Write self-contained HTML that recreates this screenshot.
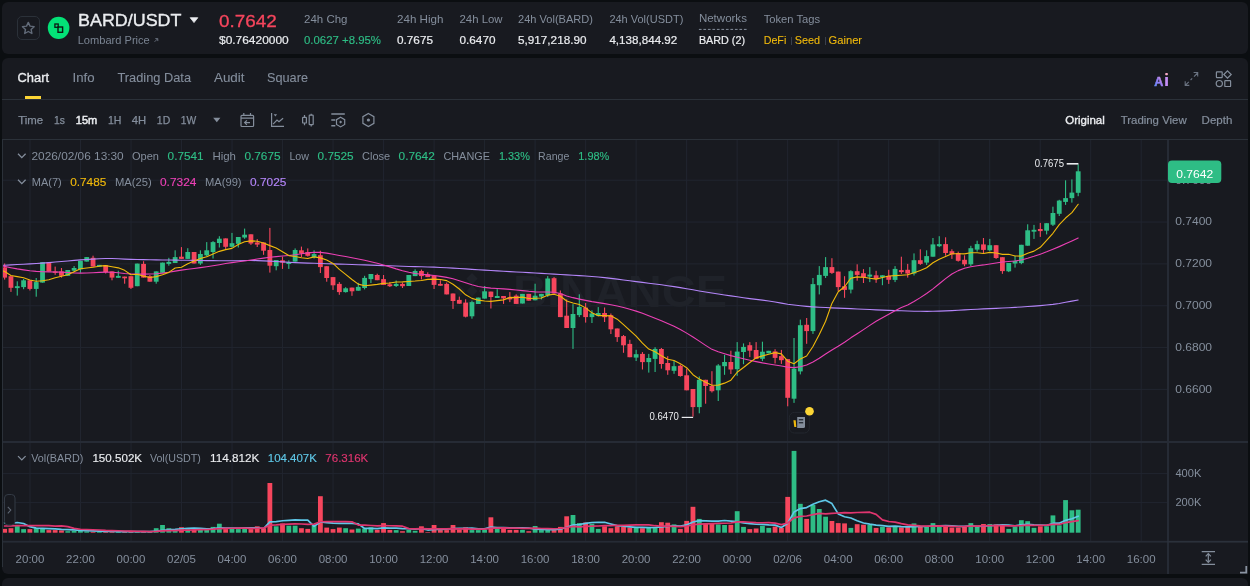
<!DOCTYPE html>
<html><head><meta charset="utf-8">
<style>
*{margin:0;padding:0;box-sizing:border-box}
html,body{width:1250px;height:586px;overflow:hidden;background:#0b0e11;font-family:"Liberation Sans",sans-serif;color:#eaecef}
.abs{position:absolute;white-space:nowrap}
#hdr{position:absolute;left:2px;top:2px;width:1246px;height:52px;background:#181a20;border-radius:6px}
#main{position:absolute;left:2px;top:58px;width:1246px;height:516px;background:#181a20;border-radius:6px 6px 0 6px}
#bot{position:absolute;left:2px;top:578px;width:1246px;height:20px;background:#181a20;border-radius:6px}
.g{color:#848e9c}
.w{color:#eaecef;-webkit-text-stroke:0.2px #eaecef}
.t12{font-size:12px;line-height:14px}
.t11{font-size:11px;line-height:13px}
svg text{font-family:"Liberation Sans",sans-serif}
#root{position:absolute;left:0;top:0;width:1250px;height:586px;overflow:hidden;will-change:transform;background:#0b0e11}
</style></head><body><div id="root">
<div id="hdr"></div>
<div id="main"></div>
<div id="bot"></div>

<!-- header -->
<div class="abs" style="left:17px;top:16px;width:23px;height:24px;border:1px solid #2b3139;border-radius:5px"></div>
<svg class="abs" style="left:0;top:0" width="80" height="50" viewBox="0 0 80 50"><path d="M28.3 22.4l1.75 3.75 4.1.5-3.05 2.8.8 4.05-3.6-2-3.6 2 .8-4.05-3.05-2.8 4.1-.5z" fill="none" stroke="#626b79" stroke-width="1.4" stroke-linejoin="round"/>
<ellipse cx="58.6" cy="27.8" rx="10.8" ry="11.1" fill="#03e277"/>
<rect x="54.9" y="24" width="3.3" height="3.3" fill="none" stroke="#0b1a12" stroke-width="1.3"/>
<rect x="58" y="27" width="4.6" height="5.3" fill="none" stroke="#0b1a12" stroke-width="1.4"/></svg>
<svg class="abs" style="left:189px;top:17px" width="10" height="7" viewBox="0 0 10 7"><path d="M1.2 0.7h7.6L5 5.6z" fill="#eaecef" stroke="#eaecef" stroke-width="0.8" stroke-linejoin="round"/></svg>
<svg class="abs" style="left:154px;top:37.8px" width="5" height="5" viewBox="0 0 5 5"><path d="M0.6 3.8L3.5 0.9M1.3 0.6H3.8V3.1" fill="none" stroke="#7a8492" stroke-width="0.8"/></svg>

<div class="abs" style="left:791px;top:37px;width:1px;height:8px;background:#3a404b"></div>
<div class="abs" style="left:825px;top:37px;width:1px;height:8px;background:#3a404b"></div>

<!-- tabs -->
<div class="abs" style="left:25px;top:96px;width:16px;height:3px;background:#fcd535"></div>
<div class="abs" style="left:2px;top:99px;width:1246px;height:1px;background:#2b3139"></div>

<!-- toolbar -->
<div class="abs" style="left:2px;top:139px;width:1246px;height:1px;background:#2b3139"></div>

<svg id="chart" class="abs" style="left:0;top:0" width="1250" height="586" viewBox="0 0 1250 586">
<line x1="30" y1="140" x2="30" y2="541.7" stroke="#21252f" stroke-width="1"/><line x1="80.51" y1="140" x2="80.51" y2="541.7" stroke="#21252f" stroke-width="1"/><line x1="131.02" y1="140" x2="131.02" y2="541.7" stroke="#21252f" stroke-width="1"/><line x1="181.53" y1="140" x2="181.53" y2="541.7" stroke="#21252f" stroke-width="1"/><line x1="232.04" y1="140" x2="232.04" y2="541.7" stroke="#21252f" stroke-width="1"/><line x1="282.55" y1="140" x2="282.55" y2="541.7" stroke="#21252f" stroke-width="1"/><line x1="333.06" y1="140" x2="333.06" y2="541.7" stroke="#21252f" stroke-width="1"/><line x1="383.57" y1="140" x2="383.57" y2="541.7" stroke="#21252f" stroke-width="1"/><line x1="434.08" y1="140" x2="434.08" y2="541.7" stroke="#21252f" stroke-width="1"/><line x1="484.59" y1="140" x2="484.59" y2="541.7" stroke="#21252f" stroke-width="1"/><line x1="535.1" y1="140" x2="535.1" y2="541.7" stroke="#21252f" stroke-width="1"/><line x1="585.61" y1="140" x2="585.61" y2="541.7" stroke="#21252f" stroke-width="1"/><line x1="636.12" y1="140" x2="636.12" y2="541.7" stroke="#21252f" stroke-width="1"/><line x1="686.63" y1="140" x2="686.63" y2="541.7" stroke="#21252f" stroke-width="1"/><line x1="737.14" y1="140" x2="737.14" y2="541.7" stroke="#21252f" stroke-width="1"/><line x1="787.65" y1="140" x2="787.65" y2="541.7" stroke="#21252f" stroke-width="1"/><line x1="838.16" y1="140" x2="838.16" y2="541.7" stroke="#21252f" stroke-width="1"/><line x1="888.67" y1="140" x2="888.67" y2="541.7" stroke="#21252f" stroke-width="1"/><line x1="939.18" y1="140" x2="939.18" y2="541.7" stroke="#21252f" stroke-width="1"/><line x1="989.69" y1="140" x2="989.69" y2="541.7" stroke="#21252f" stroke-width="1"/><line x1="1040.2" y1="140" x2="1040.2" y2="541.7" stroke="#21252f" stroke-width="1"/><line x1="1090.71" y1="140" x2="1090.71" y2="541.7" stroke="#21252f" stroke-width="1"/><line x1="1141.22" y1="140" x2="1141.22" y2="541.7" stroke="#21252f" stroke-width="1"/><line x1="3" y1="180.2" x2="1167.5" y2="180.2" stroke="#21252f" stroke-width="1"/><line x1="3" y1="222.04" x2="1167.5" y2="222.04" stroke="#21252f" stroke-width="1"/><line x1="3" y1="263.88" x2="1167.5" y2="263.88" stroke="#21252f" stroke-width="1"/><line x1="3" y1="305.72" x2="1167.5" y2="305.72" stroke="#21252f" stroke-width="1"/><line x1="3" y1="347.56" x2="1167.5" y2="347.56" stroke="#21252f" stroke-width="1"/><line x1="3" y1="389.4" x2="1167.5" y2="389.4" stroke="#21252f" stroke-width="1"/><line x1="3" y1="473.6" x2="1167.5" y2="473.6" stroke="#21252f" stroke-width="1"/><line x1="3" y1="502.6" x2="1167.5" y2="502.6" stroke="#21252f" stroke-width="1"/><!-- watermark -->
<g fill="#1f2229">
<text x="513" y="306.6" font-size="45" font-weight="bold" textLength="214" lengthAdjust="spacingAndGlyphs">BINANCE</text>
<g transform="translate(472,291)"><path d="M0 -19l6 6-6 6-6-6zM-13 -6l6 6-6 6-6-6zM13 -6l6 6-6 6-6-6zM0 -6l6 6-6 6-6-6zM0 7l6 6-6 6-6-6z" transform="scale(0.95)"/></g>
</g>
<rect x="4.09" y="263.5" width="1.1" height="16.1" fill="#f6465d"/><rect x="2.24" y="267.4" width="4.8" height="10.2" fill="#f6465d"/><rect x="10.4" y="276.2" width="1.1" height="15.7" fill="#f6465d"/><rect x="8.55" y="276.2" width="4.8" height="11.6" fill="#f6465d"/><rect x="16.72" y="281.3" width="1.1" height="14.3" fill="#2ebd85"/><rect x="14.87" y="286.2" width="4.8" height="1.9" fill="#2ebd85"/><rect x="23.04" y="279" width="1.1" height="10.2" fill="#2ebd85"/><rect x="21.19" y="280.3" width="4.8" height="6.8" fill="#2ebd85"/><rect x="29.35" y="280.3" width="1.1" height="10.2" fill="#f6465d"/><rect x="27.5" y="280.3" width="4.8" height="8.6" fill="#f6465d"/><rect x="35.67" y="278" width="1.1" height="18.7" fill="#2ebd85"/><rect x="33.82" y="282.1" width="4.8" height="6.8" fill="#2ebd85"/><rect x="41.98" y="262.1" width="1.1" height="20.5" fill="#2ebd85"/><rect x="40.13" y="262.1" width="4.8" height="20.5" fill="#2ebd85"/><rect x="48.3" y="262.1" width="1.1" height="9.3" fill="#f6465d"/><rect x="46.45" y="262.1" width="4.8" height="9.3" fill="#f6465d"/><rect x="54.61" y="266.6" width="1.1" height="8.2" fill="#f6465d"/><rect x="52.76" y="271.4" width="4.8" height="1.4" fill="#f6465d"/><rect x="60.93" y="268" width="1.1" height="9.6" fill="#f6465d"/><rect x="59.08" y="271.4" width="4.8" height="4.4" fill="#f6465d"/><rect x="67.24" y="270" width="1.1" height="5.8" fill="#2ebd85"/><rect x="65.39" y="270" width="4.8" height="5.8" fill="#2ebd85"/><rect x="73.56" y="266" width="1.1" height="5.4" fill="#2ebd85"/><rect x="71.7" y="268" width="4.8" height="2.7" fill="#2ebd85"/><rect x="79.87" y="260.8" width="1.1" height="12" fill="#2ebd85"/><rect x="78.02" y="260.8" width="4.8" height="8.6" fill="#2ebd85"/><rect x="86.19" y="257.1" width="1.1" height="4.5" fill="#2ebd85"/><rect x="84.33" y="257.1" width="4.8" height="4.5" fill="#2ebd85"/><rect x="92.5" y="255.7" width="1.1" height="10.9" fill="#f6465d"/><rect x="90.65" y="257.8" width="4.8" height="8.8" fill="#f6465d"/><rect x="98.82" y="264.9" width="1.1" height="1.7" fill="#2ebd85"/><rect x="96.97" y="264.9" width="4.8" height="1.7" fill="#2ebd85"/><rect x="105.13" y="265.3" width="1.1" height="8.2" fill="#f6465d"/><rect x="103.28" y="265.3" width="4.8" height="6.8" fill="#f6465d"/><rect x="111.45" y="271.4" width="1.1" height="8.9" fill="#f6465d"/><rect x="109.59" y="271.4" width="4.8" height="6.2" fill="#f6465d"/><rect x="117.76" y="270.7" width="1.1" height="7.1" fill="#2ebd85"/><rect x="115.91" y="275.9" width="4.8" height="1.9" fill="#2ebd85"/><rect x="124.08" y="276.6" width="1.1" height="7.1" fill="#f6465d"/><rect x="122.23" y="276.6" width="4.8" height="1.7" fill="#f6465d"/><rect x="130.39" y="276.2" width="1.1" height="12.8" fill="#f6465d"/><rect x="128.54" y="276.2" width="4.8" height="11.6" fill="#f6465d"/><rect x="136.7" y="263.6" width="1.1" height="22.6" fill="#2ebd85"/><rect x="134.85" y="263.6" width="4.8" height="22.6" fill="#2ebd85"/><rect x="143.02" y="261.2" width="1.1" height="16.4" fill="#f6465d"/><rect x="141.17" y="263.9" width="4.8" height="13.7" fill="#f6465d"/><rect x="149.33" y="275" width="1.1" height="6.7" fill="#f6465d"/><rect x="147.48" y="276.2" width="4.8" height="5.5" fill="#f6465d"/><rect x="155.65" y="271.4" width="1.1" height="12.3" fill="#2ebd85"/><rect x="153.8" y="271.4" width="4.8" height="10.3" fill="#2ebd85"/><rect x="161.96" y="262.6" width="1.1" height="10.2" fill="#2ebd85"/><rect x="160.11" y="262.6" width="4.8" height="10.2" fill="#2ebd85"/><rect x="168.28" y="257.8" width="1.1" height="7.9" fill="#2ebd85"/><rect x="166.43" y="261.9" width="4.8" height="2" fill="#2ebd85"/><rect x="174.59" y="250.3" width="1.1" height="12.7" fill="#2ebd85"/><rect x="172.75" y="257.1" width="4.8" height="5.9" fill="#2ebd85"/><rect x="180.91" y="247.1" width="1.1" height="11.8" fill="#f6465d"/><rect x="179.06" y="256.7" width="4.8" height="2.2" fill="#f6465d"/><rect x="187.22" y="248.2" width="1.1" height="10.7" fill="#2ebd85"/><rect x="185.38" y="252" width="4.8" height="6.9" fill="#2ebd85"/><rect x="193.54" y="252" width="1.1" height="11.5" fill="#f6465d"/><rect x="191.69" y="252" width="4.8" height="11.5" fill="#f6465d"/><rect x="199.85" y="250.3" width="1.1" height="14.6" fill="#2ebd85"/><rect x="198" y="254" width="4.8" height="9.5" fill="#2ebd85"/><rect x="206.17" y="242.1" width="1.1" height="14.3" fill="#2ebd85"/><rect x="204.32" y="250.3" width="4.8" height="5" fill="#2ebd85"/><rect x="212.48" y="241.1" width="1.1" height="17.4" fill="#2ebd85"/><rect x="210.63" y="242.1" width="4.8" height="9.9" fill="#2ebd85"/><rect x="218.8" y="236.2" width="1.1" height="11.3" fill="#2ebd85"/><rect x="216.95" y="238.7" width="4.8" height="4.3" fill="#2ebd85"/><rect x="225.11" y="238.4" width="1.1" height="10.5" fill="#f6465d"/><rect x="223.26" y="238.4" width="4.8" height="8.4" fill="#f6465d"/><rect x="231.43" y="232.9" width="1.1" height="14.6" fill="#2ebd85"/><rect x="229.58" y="243.2" width="4.8" height="3.6" fill="#2ebd85"/><rect x="237.74" y="237" width="1.1" height="10.5" fill="#2ebd85"/><rect x="235.89" y="237" width="4.8" height="6.8" fill="#2ebd85"/><rect x="244.06" y="228.6" width="1.1" height="10.2" fill="#2ebd85"/><rect x="242.21" y="234.7" width="4.8" height="2.8" fill="#2ebd85"/><rect x="250.38" y="234.3" width="1.1" height="10.6" fill="#f6465d"/><rect x="248.53" y="234.3" width="4.8" height="9.2" fill="#f6465d"/><rect x="256.69" y="239.1" width="1.1" height="7.9" fill="#f6465d"/><rect x="254.84" y="242.5" width="4.8" height="2.1" fill="#f6465d"/><rect x="263" y="242.5" width="1.1" height="12.3" fill="#f6465d"/><rect x="261.16" y="242.5" width="4.8" height="8.2" fill="#f6465d"/><rect x="269.32" y="227.9" width="1.1" height="44.7" fill="#f6465d"/><rect x="267.47" y="250" width="4.8" height="15.7" fill="#f6465d"/><rect x="275.63" y="260" width="1.1" height="10.3" fill="#2ebd85"/><rect x="273.79" y="260" width="4.8" height="6.2" fill="#2ebd85"/><rect x="281.95" y="256.6" width="1.1" height="12.3" fill="#f6465d"/><rect x="280.1" y="260.3" width="4.8" height="2.3" fill="#f6465d"/><rect x="288.26" y="260.3" width="1.1" height="8.6" fill="#2ebd85"/><rect x="286.42" y="262" width="4.8" height="2" fill="#2ebd85"/><rect x="294.58" y="248.4" width="1.1" height="13.2" fill="#2ebd85"/><rect x="292.73" y="250" width="4.8" height="11.6" fill="#2ebd85"/><rect x="300.89" y="246.6" width="1.1" height="10.5" fill="#f6465d"/><rect x="299.05" y="250.3" width="4.8" height="3.2" fill="#f6465d"/><rect x="307.21" y="248.4" width="1.1" height="8.2" fill="#f6465d"/><rect x="305.36" y="252.1" width="4.8" height="3.7" fill="#f6465d"/><rect x="313.52" y="250.3" width="1.1" height="8.2" fill="#2ebd85"/><rect x="311.68" y="254.1" width="4.8" height="3" fill="#2ebd85"/><rect x="319.84" y="250.7" width="1.1" height="22.3" fill="#f6465d"/><rect x="317.99" y="255.2" width="4.8" height="11.9" fill="#f6465d"/><rect x="326.15" y="266.2" width="1.1" height="15.5" fill="#f6465d"/><rect x="324.31" y="266.2" width="4.8" height="11.8" fill="#f6465d"/><rect x="332.47" y="277.1" width="1.1" height="12.8" fill="#f6465d"/><rect x="330.62" y="277.1" width="4.8" height="8.2" fill="#f6465d"/><rect x="338.78" y="282.1" width="1.1" height="12.7" fill="#f6465d"/><rect x="336.94" y="283.9" width="4.8" height="8.2" fill="#f6465d"/><rect x="345.1" y="287.2" width="1.1" height="5.4" fill="#2ebd85"/><rect x="343.25" y="288.3" width="4.8" height="3.8" fill="#2ebd85"/><rect x="351.42" y="287.6" width="1.1" height="8.2" fill="#f6465d"/><rect x="349.57" y="287.6" width="4.8" height="3.7" fill="#f6465d"/><rect x="357.73" y="282.8" width="1.1" height="7.9" fill="#2ebd85"/><rect x="355.88" y="286.9" width="4.8" height="3.8" fill="#2ebd85"/><rect x="364.05" y="275.8" width="1.1" height="13.6" fill="#2ebd85"/><rect x="362.2" y="277.9" width="4.8" height="10.1" fill="#2ebd85"/><rect x="370.36" y="274" width="1.1" height="9" fill="#2ebd85"/><rect x="368.51" y="274" width="4.8" height="5.1" fill="#2ebd85"/><rect x="376.68" y="273.7" width="1.1" height="6.5" fill="#f6465d"/><rect x="374.83" y="275" width="4.8" height="5.2" fill="#f6465d"/><rect x="382.99" y="275" width="1.1" height="9.9" fill="#f6465d"/><rect x="381.14" y="279.1" width="4.8" height="5.8" fill="#f6465d"/><rect x="389.31" y="281.9" width="1.1" height="5.1" fill="#f6465d"/><rect x="387.46" y="284.3" width="4.8" height="1.9" fill="#f6465d"/><rect x="395.62" y="280.5" width="1.1" height="6.5" fill="#2ebd85"/><rect x="393.77" y="283.9" width="4.8" height="2.1" fill="#2ebd85"/><rect x="401.94" y="282.5" width="1.1" height="5.5" fill="#f6465d"/><rect x="400.09" y="283.9" width="4.8" height="2.3" fill="#f6465d"/><rect x="408.25" y="275" width="1.1" height="11" fill="#2ebd85"/><rect x="406.4" y="275" width="4.8" height="11" fill="#2ebd85"/><rect x="414.56" y="269.3" width="1.1" height="6.8" fill="#2ebd85"/><rect x="412.72" y="271" width="4.8" height="5.1" fill="#2ebd85"/><rect x="420.88" y="269.6" width="1.1" height="9.8" fill="#f6465d"/><rect x="419.03" y="271" width="4.8" height="5.1" fill="#f6465d"/><rect x="427.19" y="272.3" width="1.1" height="4.8" fill="#f6465d"/><rect x="425.35" y="274.4" width="4.8" height="2.7" fill="#f6465d"/><rect x="433.51" y="275.7" width="1.1" height="13.3" fill="#f6465d"/><rect x="431.66" y="275.7" width="4.8" height="9.2" fill="#f6465d"/><rect x="439.82" y="280.2" width="1.1" height="5.5" fill="#f6465d"/><rect x="437.98" y="283.9" width="4.8" height="1.8" fill="#f6465d"/><rect x="446.14" y="282.5" width="1.1" height="11.9" fill="#f6465d"/><rect x="444.29" y="283.9" width="4.8" height="10.5" fill="#f6465d"/><rect x="452.45" y="293.5" width="1.1" height="15.4" fill="#f6465d"/><rect x="450.61" y="293.5" width="4.8" height="7.5" fill="#f6465d"/><rect x="458.77" y="296.6" width="1.1" height="7.1" fill="#f6465d"/><rect x="456.92" y="299.9" width="4.8" height="3.8" fill="#f6465d"/><rect x="465.08" y="299.3" width="1.1" height="18.1" fill="#f6465d"/><rect x="463.24" y="302.6" width="4.8" height="14.1" fill="#f6465d"/><rect x="471.4" y="300.7" width="1.1" height="18" fill="#2ebd85"/><rect x="469.55" y="302.1" width="4.8" height="14.2" fill="#2ebd85"/><rect x="477.72" y="297.6" width="1.1" height="6.4" fill="#2ebd85"/><rect x="475.87" y="297.6" width="4.8" height="6.4" fill="#2ebd85"/><rect x="484.03" y="286" width="1.1" height="12.6" fill="#2ebd85"/><rect x="482.18" y="291.3" width="4.8" height="7.3" fill="#2ebd85"/><rect x="490.35" y="291.6" width="1.1" height="16.9" fill="#f6465d"/><rect x="488.5" y="291.6" width="4.8" height="5.4" fill="#f6465d"/><rect x="496.66" y="289.1" width="1.1" height="8.9" fill="#2ebd85"/><rect x="494.81" y="296" width="4.8" height="2" fill="#2ebd85"/><rect x="502.98" y="296" width="1.1" height="7.9" fill="#f6465d"/><rect x="501.13" y="296" width="4.8" height="2.4" fill="#f6465d"/><rect x="509.29" y="292.1" width="1.1" height="10" fill="#f6465d"/><rect x="507.44" y="297.3" width="4.8" height="2.1" fill="#f6465d"/><rect x="515.61" y="294.3" width="1.1" height="9.6" fill="#f6465d"/><rect x="513.76" y="295.7" width="4.8" height="8.2" fill="#f6465d"/><rect x="521.92" y="293.9" width="1.1" height="9.6" fill="#2ebd85"/><rect x="520.07" y="293.9" width="4.8" height="9.6" fill="#2ebd85"/><rect x="528.24" y="293.9" width="1.1" height="6.8" fill="#f6465d"/><rect x="526.38" y="293.9" width="4.8" height="6.8" fill="#f6465d"/><rect x="534.55" y="283.7" width="1.1" height="16.6" fill="#2ebd85"/><rect x="532.7" y="295.7" width="4.8" height="4.6" fill="#2ebd85"/><rect x="540.87" y="293.9" width="1.1" height="5.5" fill="#2ebd85"/><rect x="539.01" y="293.9" width="4.8" height="2.7" fill="#2ebd85"/><rect x="547.18" y="276.1" width="1.1" height="20.9" fill="#2ebd85"/><rect x="545.33" y="278.5" width="4.8" height="16.8" fill="#2ebd85"/><rect x="553.5" y="277.1" width="1.1" height="16.4" fill="#f6465d"/><rect x="551.65" y="278.2" width="4.8" height="15.3" fill="#f6465d"/><rect x="559.81" y="290.5" width="1.1" height="26.6" fill="#f6465d"/><rect x="557.96" y="293.5" width="4.8" height="23.6" fill="#f6465d"/><rect x="566.13" y="299.4" width="1.1" height="28.6" fill="#f6465d"/><rect x="564.28" y="315.7" width="4.8" height="12.3" fill="#f6465d"/><rect x="572.44" y="304.1" width="1.1" height="44.8" fill="#2ebd85"/><rect x="570.59" y="314" width="4.8" height="14" fill="#2ebd85"/><rect x="578.76" y="294.3" width="1.1" height="22.8" fill="#2ebd85"/><rect x="576.91" y="306.9" width="4.8" height="8.2" fill="#2ebd85"/><rect x="585.07" y="303" width="1.1" height="19.6" fill="#f6465d"/><rect x="583.22" y="307.6" width="4.8" height="9.5" fill="#f6465d"/><rect x="591.39" y="310.3" width="1.1" height="12.7" fill="#2ebd85"/><rect x="589.54" y="313.4" width="4.8" height="3.7" fill="#2ebd85"/><rect x="597.7" y="307.1" width="1.1" height="9.3" fill="#2ebd85"/><rect x="595.85" y="313" width="4.8" height="2.7" fill="#2ebd85"/><rect x="604.02" y="307.5" width="1.1" height="14.5" fill="#f6465d"/><rect x="602.17" y="313" width="4.8" height="4.2" fill="#f6465d"/><rect x="610.33" y="313.5" width="1.1" height="20.5" fill="#f6465d"/><rect x="608.48" y="315.2" width="4.8" height="14.1" fill="#f6465d"/><rect x="616.65" y="328.5" width="1.1" height="13.4" fill="#f6465d"/><rect x="614.8" y="328.5" width="4.8" height="8.6" fill="#f6465d"/><rect x="622.96" y="335" width="1.1" height="17.8" fill="#f6465d"/><rect x="621.11" y="336.1" width="4.8" height="9.2" fill="#f6465d"/><rect x="629.28" y="339.8" width="1.1" height="17.4" fill="#f6465d"/><rect x="627.43" y="343.9" width="4.8" height="13.3" fill="#f6465d"/><rect x="635.59" y="349.8" width="1.1" height="11.2" fill="#2ebd85"/><rect x="633.74" y="354.2" width="4.8" height="3.4" fill="#2ebd85"/><rect x="641.91" y="352.1" width="1.1" height="17.4" fill="#f6465d"/><rect x="640.06" y="353.9" width="4.8" height="8.2" fill="#f6465d"/><rect x="648.22" y="353.9" width="1.1" height="18.7" fill="#2ebd85"/><rect x="646.37" y="358" width="4.8" height="4.1" fill="#2ebd85"/><rect x="654.54" y="347.2" width="1.1" height="24.8" fill="#2ebd85"/><rect x="652.69" y="348.9" width="4.8" height="10" fill="#2ebd85"/><rect x="660.85" y="348" width="1.1" height="20.7" fill="#f6465d"/><rect x="659" y="349" width="4.8" height="15" fill="#f6465d"/><rect x="667.17" y="356.2" width="1.1" height="18.6" fill="#f6465d"/><rect x="665.32" y="363" width="4.8" height="7.3" fill="#f6465d"/><rect x="673.48" y="361" width="1.1" height="12.8" fill="#2ebd85"/><rect x="671.63" y="366.2" width="4.8" height="4.6" fill="#2ebd85"/><rect x="679.8" y="364.4" width="1.1" height="12.3" fill="#f6465d"/><rect x="677.95" y="365.8" width="4.8" height="10.2" fill="#f6465d"/><rect x="686.11" y="368.5" width="1.1" height="21.8" fill="#f6465d"/><rect x="684.26" y="375.3" width="4.8" height="15" fill="#f6465d"/><rect x="692.43" y="389" width="1.1" height="27.6" fill="#f6465d"/><rect x="690.58" y="389" width="4.8" height="18.1" fill="#f6465d"/><rect x="698.74" y="376.4" width="1.1" height="36.9" fill="#2ebd85"/><rect x="696.89" y="379.8" width="4.8" height="27.3" fill="#2ebd85"/><rect x="705.06" y="379.8" width="1.1" height="23.9" fill="#f6465d"/><rect x="703.21" y="379.8" width="4.8" height="6.2" fill="#f6465d"/><rect x="711.37" y="371.2" width="1.1" height="21.3" fill="#f6465d"/><rect x="709.52" y="386" width="4.8" height="5.2" fill="#f6465d"/><rect x="717.69" y="364.1" width="1.1" height="36.9" fill="#2ebd85"/><rect x="715.84" y="365.5" width="4.8" height="24.8" fill="#2ebd85"/><rect x="724" y="354.9" width="1.1" height="19.9" fill="#2ebd85"/><rect x="722.15" y="362" width="4.8" height="4.2" fill="#2ebd85"/><rect x="730.32" y="350.7" width="1.1" height="23.3" fill="#f6465d"/><rect x="728.47" y="362" width="4.8" height="7.5" fill="#f6465d"/><rect x="736.63" y="342.1" width="1.1" height="33.7" fill="#2ebd85"/><rect x="734.78" y="351.6" width="4.8" height="17.6" fill="#2ebd85"/><rect x="742.95" y="343.4" width="1.1" height="20.8" fill="#2ebd85"/><rect x="741.1" y="346.9" width="4.8" height="5.1" fill="#2ebd85"/><rect x="749.26" y="342.1" width="1.1" height="15" fill="#f6465d"/><rect x="747.41" y="345.2" width="4.8" height="5.5" fill="#f6465d"/><rect x="755.58" y="342.1" width="1.1" height="16.8" fill="#f6465d"/><rect x="753.73" y="350" width="4.8" height="8.9" fill="#f6465d"/><rect x="761.89" y="341.7" width="1.1" height="19.4" fill="#2ebd85"/><rect x="760.04" y="351.7" width="4.8" height="7.1" fill="#2ebd85"/><rect x="768.21" y="350.8" width="1.1" height="2.5" fill="#2ebd85"/><rect x="766.36" y="350.8" width="4.8" height="2.5" fill="#2ebd85"/><rect x="774.52" y="349.2" width="1.1" height="14.3" fill="#f6465d"/><rect x="772.67" y="351.4" width="4.8" height="6.5" fill="#f6465d"/><rect x="780.84" y="349.9" width="1.1" height="14" fill="#f6465d"/><rect x="778.99" y="356.1" width="4.8" height="4.1" fill="#f6465d"/><rect x="787.15" y="359.1" width="1.1" height="47.2" fill="#f6465d"/><rect x="785.3" y="359.1" width="4.8" height="38.7" fill="#f6465d"/><rect x="793.47" y="338" width="1.1" height="64.9" fill="#2ebd85"/><rect x="791.62" y="368.7" width="4.8" height="30" fill="#2ebd85"/><rect x="799.78" y="319.6" width="1.1" height="54.8" fill="#2ebd85"/><rect x="797.93" y="325.2" width="4.8" height="46.2" fill="#2ebd85"/><rect x="806.1" y="318" width="1.1" height="25.8" fill="#f6465d"/><rect x="804.25" y="324.8" width="4.8" height="6.3" fill="#f6465d"/><rect x="812.41" y="278" width="1.1" height="55.9" fill="#2ebd85"/><rect x="810.56" y="284.1" width="4.8" height="47" fill="#2ebd85"/><rect x="818.73" y="266.1" width="1.1" height="28.3" fill="#2ebd85"/><rect x="816.88" y="274.9" width="4.8" height="10.3" fill="#2ebd85"/><rect x="825.04" y="257.1" width="1.1" height="20.9" fill="#2ebd85"/><rect x="823.19" y="267.1" width="4.8" height="8.8" fill="#2ebd85"/><rect x="831.36" y="258.2" width="1.1" height="15.7" fill="#f6465d"/><rect x="829.51" y="267.1" width="4.8" height="5.8" fill="#f6465d"/><rect x="837.67" y="271.6" width="1.1" height="19.4" fill="#f6465d"/><rect x="835.82" y="271.6" width="4.8" height="15.5" fill="#f6465d"/><rect x="843.99" y="276.2" width="1.1" height="21.6" fill="#f6465d"/><rect x="842.14" y="286.2" width="4.8" height="3.7" fill="#f6465d"/><rect x="850.3" y="270.2" width="1.1" height="23.2" fill="#2ebd85"/><rect x="848.45" y="271.2" width="4.8" height="18.4" fill="#2ebd85"/><rect x="856.62" y="264.3" width="1.1" height="16.4" fill="#f6465d"/><rect x="854.77" y="271.2" width="4.8" height="3.7" fill="#f6465d"/><rect x="862.93" y="269.1" width="1.1" height="13.9" fill="#f6465d"/><rect x="861.08" y="273.2" width="4.8" height="4.1" fill="#f6465d"/><rect x="869.25" y="267.1" width="1.1" height="15" fill="#2ebd85"/><rect x="867.4" y="274.6" width="4.8" height="2" fill="#2ebd85"/><rect x="875.56" y="270.8" width="1.1" height="12" fill="#f6465d"/><rect x="873.71" y="275.3" width="4.8" height="3.6" fill="#f6465d"/><rect x="881.88" y="275.3" width="1.1" height="9.9" fill="#2ebd85"/><rect x="880.03" y="275.3" width="4.8" height="2" fill="#2ebd85"/><rect x="888.19" y="269.8" width="1.1" height="14.1" fill="#f6465d"/><rect x="886.34" y="275.9" width="4.8" height="3.9" fill="#f6465d"/><rect x="894.51" y="266.1" width="1.1" height="16" fill="#2ebd85"/><rect x="892.66" y="268.9" width="4.8" height="11" fill="#2ebd85"/><rect x="900.82" y="256.7" width="1.1" height="17.2" fill="#f6465d"/><rect x="898.97" y="270.1" width="4.8" height="2" fill="#f6465d"/><rect x="907.14" y="263.9" width="1.1" height="13.7" fill="#f6465d"/><rect x="905.29" y="269.8" width="4.8" height="3.7" fill="#f6465d"/><rect x="913.45" y="253.4" width="1.1" height="22.1" fill="#2ebd85"/><rect x="911.6" y="260.2" width="4.8" height="13.3" fill="#2ebd85"/><rect x="919.77" y="249.3" width="1.1" height="15.6" fill="#f6465d"/><rect x="917.92" y="260.2" width="4.8" height="3.7" fill="#f6465d"/><rect x="926.08" y="250.3" width="1.1" height="14.6" fill="#2ebd85"/><rect x="924.23" y="256.1" width="4.8" height="6.5" fill="#2ebd85"/><rect x="932.4" y="238" width="1.1" height="18.7" fill="#2ebd85"/><rect x="930.55" y="244.4" width="4.8" height="12.3" fill="#2ebd85"/><rect x="938.71" y="236.2" width="1.1" height="10.9" fill="#2ebd85"/><rect x="936.86" y="244.1" width="4.8" height="2.1" fill="#2ebd85"/><rect x="945.03" y="237.3" width="1.1" height="18.4" fill="#f6465d"/><rect x="943.18" y="244.1" width="4.8" height="8.9" fill="#f6465d"/><rect x="951.34" y="249.3" width="1.1" height="9.6" fill="#f6465d"/><rect x="949.49" y="251.2" width="4.8" height="3.2" fill="#f6465d"/><rect x="957.66" y="251.6" width="1.1" height="10" fill="#f6465d"/><rect x="955.81" y="253" width="4.8" height="7.8" fill="#f6465d"/><rect x="963.97" y="255.3" width="1.1" height="10.9" fill="#f6465d"/><rect x="962.12" y="259.8" width="4.8" height="4.5" fill="#f6465d"/><rect x="970.29" y="245.8" width="1.1" height="20.2" fill="#2ebd85"/><rect x="968.44" y="248.2" width="4.8" height="16.1" fill="#2ebd85"/><rect x="976.6" y="240.7" width="1.1" height="10.9" fill="#2ebd85"/><rect x="974.75" y="244.1" width="4.8" height="5.5" fill="#2ebd85"/><rect x="982.92" y="238" width="1.1" height="15" fill="#f6465d"/><rect x="981.07" y="244.4" width="4.8" height="5.5" fill="#f6465d"/><rect x="989.23" y="238.9" width="1.1" height="12.3" fill="#2ebd85"/><rect x="987.38" y="245.2" width="4.8" height="5.1" fill="#2ebd85"/><rect x="995.55" y="245.2" width="1.1" height="13.7" fill="#f6465d"/><rect x="993.7" y="245.2" width="4.8" height="12.8" fill="#f6465d"/><rect x="1001.86" y="257.2" width="1.1" height="16.6" fill="#f6465d"/><rect x="1000.01" y="257.2" width="4.8" height="13.9" fill="#f6465d"/><rect x="1008.18" y="263" width="1.1" height="9.1" fill="#2ebd85"/><rect x="1006.33" y="263" width="4.8" height="8.3" fill="#2ebd85"/><rect x="1014.49" y="255.7" width="1.1" height="11.9" fill="#2ebd85"/><rect x="1012.64" y="260.8" width="4.8" height="2.7" fill="#2ebd85"/><rect x="1020.81" y="244.8" width="1.1" height="19.4" fill="#2ebd85"/><rect x="1018.96" y="244.8" width="4.8" height="18.3" fill="#2ebd85"/><rect x="1027.12" y="224.3" width="1.1" height="21.4" fill="#2ebd85"/><rect x="1025.27" y="230.3" width="4.8" height="15.4" fill="#2ebd85"/><rect x="1033.44" y="224.9" width="1.1" height="14" fill="#2ebd85"/><rect x="1031.59" y="229.8" width="4.8" height="1.9" fill="#2ebd85"/><rect x="1039.75" y="222.9" width="1.1" height="14" fill="#f6465d"/><rect x="1037.9" y="229" width="4.8" height="2.1" fill="#f6465d"/><rect x="1046.07" y="223.2" width="1.1" height="11.2" fill="#2ebd85"/><rect x="1044.22" y="223.2" width="4.8" height="7.5" fill="#2ebd85"/><rect x="1052.38" y="206.7" width="1.1" height="19.3" fill="#2ebd85"/><rect x="1050.53" y="213" width="4.8" height="11.7" fill="#2ebd85"/><rect x="1058.7" y="199.8" width="1.1" height="16.2" fill="#2ebd85"/><rect x="1056.85" y="200.6" width="4.8" height="13.2" fill="#2ebd85"/><rect x="1065.01" y="180.3" width="1.1" height="24.6" fill="#2ebd85"/><rect x="1063.16" y="198.1" width="4.8" height="3.8" fill="#2ebd85"/><rect x="1071.33" y="179.4" width="1.1" height="23.2" fill="#2ebd85"/><rect x="1069.48" y="192.6" width="4.8" height="5.5" fill="#2ebd85"/><rect x="1077.64" y="164.4" width="1.1" height="31.8" fill="#2ebd85"/><rect x="1075.79" y="171.3" width="4.8" height="21.5" fill="#2ebd85"/><rect x="2.24" y="528.9" width="4.8" height="3.8" fill="#f6465d"/><rect x="8.55" y="528.2" width="4.8" height="4.5" fill="#f6465d"/><rect x="14.87" y="526.1" width="4.8" height="6.6" fill="#2ebd85"/><rect x="21.19" y="529.1" width="4.8" height="3.6" fill="#2ebd85"/><rect x="27.5" y="529.1" width="4.8" height="3.6" fill="#f6465d"/><rect x="33.82" y="528.2" width="4.8" height="4.5" fill="#2ebd85"/><rect x="40.13" y="528.9" width="4.8" height="3.8" fill="#2ebd85"/><rect x="46.45" y="530.1" width="4.8" height="2.6" fill="#f6465d"/><rect x="52.76" y="530.1" width="4.8" height="2.6" fill="#f6465d"/><rect x="59.08" y="530.4" width="4.8" height="2.3" fill="#f6465d"/><rect x="65.39" y="531.2" width="4.8" height="1.5" fill="#2ebd85"/><rect x="71.7" y="530.8" width="4.8" height="1.9" fill="#2ebd85"/><rect x="78.02" y="530.8" width="4.8" height="1.9" fill="#2ebd85"/><rect x="84.33" y="531.4" width="4.8" height="1.3" fill="#2ebd85"/><rect x="90.65" y="531.8" width="4.8" height="0.9" fill="#f6465d"/><rect x="96.97" y="531.7" width="4.8" height="1" fill="#2ebd85"/><rect x="103.28" y="531.7" width="4.8" height="1" fill="#f6465d"/><rect x="109.59" y="531.7" width="4.8" height="1" fill="#f6465d"/><rect x="115.91" y="531.7" width="4.8" height="1" fill="#2ebd85"/><rect x="122.23" y="531.7" width="4.8" height="1" fill="#f6465d"/><rect x="128.54" y="531.7" width="4.8" height="1" fill="#f6465d"/><rect x="134.85" y="531.7" width="4.8" height="1" fill="#2ebd85"/><rect x="141.17" y="531.7" width="4.8" height="1" fill="#f6465d"/><rect x="147.48" y="531.7" width="4.8" height="1" fill="#f6465d"/><rect x="153.8" y="528.2" width="4.8" height="4.5" fill="#2ebd85"/><rect x="160.11" y="525" width="4.8" height="7.7" fill="#2ebd85"/><rect x="166.43" y="528.2" width="4.8" height="4.5" fill="#2ebd85"/><rect x="172.75" y="529.1" width="4.8" height="3.6" fill="#2ebd85"/><rect x="179.06" y="527.2" width="4.8" height="5.5" fill="#f6465d"/><rect x="185.38" y="529.1" width="4.8" height="3.6" fill="#2ebd85"/><rect x="191.69" y="529.5" width="4.8" height="3.2" fill="#f6465d"/><rect x="198" y="529.5" width="4.8" height="3.2" fill="#2ebd85"/><rect x="204.32" y="529.1" width="4.8" height="3.6" fill="#2ebd85"/><rect x="210.63" y="526.9" width="4.8" height="5.8" fill="#2ebd85"/><rect x="216.95" y="523.7" width="4.8" height="9" fill="#2ebd85"/><rect x="223.26" y="529.1" width="4.8" height="3.6" fill="#f6465d"/><rect x="229.58" y="528.9" width="4.8" height="3.8" fill="#2ebd85"/><rect x="235.89" y="529.1" width="4.8" height="3.6" fill="#2ebd85"/><rect x="242.21" y="528.9" width="4.8" height="3.8" fill="#2ebd85"/><rect x="248.53" y="529.1" width="4.8" height="3.6" fill="#f6465d"/><rect x="254.84" y="526.3" width="4.8" height="6.4" fill="#f6465d"/><rect x="261.16" y="528.2" width="4.8" height="4.5" fill="#f6465d"/><rect x="267.47" y="483" width="4.8" height="49.7" fill="#f6465d"/><rect x="273.79" y="526.3" width="4.8" height="6.4" fill="#2ebd85"/><rect x="280.1" y="523.5" width="4.8" height="9.2" fill="#f6465d"/><rect x="286.42" y="525.7" width="4.8" height="7" fill="#2ebd85"/><rect x="292.73" y="525.7" width="4.8" height="7" fill="#2ebd85"/><rect x="299.05" y="528.2" width="4.8" height="4.5" fill="#f6465d"/><rect x="305.36" y="528.9" width="4.8" height="3.8" fill="#f6465d"/><rect x="311.68" y="525.7" width="4.8" height="7" fill="#2ebd85"/><rect x="317.99" y="496.2" width="4.8" height="36.5" fill="#f6465d"/><rect x="324.31" y="527.6" width="4.8" height="5.1" fill="#f6465d"/><rect x="330.62" y="529.1" width="4.8" height="3.6" fill="#f6465d"/><rect x="336.94" y="527.6" width="4.8" height="5.1" fill="#f6465d"/><rect x="343.25" y="528.2" width="4.8" height="4.5" fill="#2ebd85"/><rect x="349.57" y="529.5" width="4.8" height="3.2" fill="#f6465d"/><rect x="355.88" y="528.6" width="4.8" height="4.1" fill="#2ebd85"/><rect x="362.2" y="528.6" width="4.8" height="4.1" fill="#2ebd85"/><rect x="368.51" y="527.3" width="4.8" height="5.4" fill="#2ebd85"/><rect x="374.83" y="529.9" width="4.8" height="2.8" fill="#f6465d"/><rect x="381.14" y="523.1" width="4.8" height="9.6" fill="#f6465d"/><rect x="387.46" y="529.9" width="4.8" height="2.8" fill="#f6465d"/><rect x="393.77" y="530.1" width="4.8" height="2.6" fill="#2ebd85"/><rect x="400.09" y="531.2" width="4.8" height="1.5" fill="#f6465d"/><rect x="406.4" y="529.9" width="4.8" height="2.8" fill="#2ebd85"/><rect x="412.72" y="530.8" width="4.8" height="1.9" fill="#2ebd85"/><rect x="419.03" y="526.3" width="4.8" height="6.4" fill="#f6465d"/><rect x="425.35" y="532.1" width="4.8" height="0.6" fill="#f6465d"/><rect x="431.66" y="525" width="4.8" height="7.7" fill="#f6465d"/><rect x="437.98" y="530.1" width="4.8" height="2.6" fill="#f6465d"/><rect x="444.29" y="530.1" width="4.8" height="2.6" fill="#f6465d"/><rect x="450.61" y="525" width="4.8" height="7.7" fill="#f6465d"/><rect x="456.92" y="529.5" width="4.8" height="3.2" fill="#f6465d"/><rect x="463.24" y="527.3" width="4.8" height="5.4" fill="#f6465d"/><rect x="469.55" y="530.1" width="4.8" height="2.6" fill="#2ebd85"/><rect x="475.87" y="530.1" width="4.8" height="2.6" fill="#2ebd85"/><rect x="482.18" y="529.9" width="4.8" height="2.8" fill="#2ebd85"/><rect x="488.5" y="517.3" width="4.8" height="15.4" fill="#f6465d"/><rect x="494.81" y="528.9" width="4.8" height="3.8" fill="#2ebd85"/><rect x="501.13" y="528.9" width="4.8" height="3.8" fill="#f6465d"/><rect x="507.44" y="529.9" width="4.8" height="2.8" fill="#f6465d"/><rect x="513.76" y="529.9" width="4.8" height="2.8" fill="#f6465d"/><rect x="520.07" y="529.9" width="4.8" height="2.8" fill="#2ebd85"/><rect x="526.38" y="531.2" width="4.8" height="1.5" fill="#f6465d"/><rect x="532.7" y="526" width="4.8" height="6.7" fill="#2ebd85"/><rect x="539.01" y="530.1" width="4.8" height="2.6" fill="#2ebd85"/><rect x="545.33" y="530.1" width="4.8" height="2.6" fill="#2ebd85"/><rect x="551.65" y="530.1" width="4.8" height="2.6" fill="#f6465d"/><rect x="557.96" y="526.9" width="4.8" height="5.8" fill="#f6465d"/><rect x="564.28" y="516.3" width="4.8" height="16.4" fill="#f6465d"/><rect x="570.59" y="515" width="4.8" height="17.7" fill="#2ebd85"/><rect x="576.91" y="523.1" width="4.8" height="9.6" fill="#2ebd85"/><rect x="583.22" y="522.5" width="4.8" height="10.2" fill="#f6465d"/><rect x="589.54" y="523.7" width="4.8" height="9" fill="#2ebd85"/><rect x="595.85" y="528.9" width="4.8" height="3.8" fill="#2ebd85"/><rect x="602.17" y="526.3" width="4.8" height="6.4" fill="#f6465d"/><rect x="608.48" y="528.2" width="4.8" height="4.5" fill="#f6465d"/><rect x="614.8" y="526.3" width="4.8" height="6.4" fill="#f6465d"/><rect x="621.11" y="526.9" width="4.8" height="5.8" fill="#f6465d"/><rect x="627.43" y="527.6" width="4.8" height="5.1" fill="#f6465d"/><rect x="633.74" y="527.8" width="4.8" height="4.9" fill="#2ebd85"/><rect x="640.06" y="528.2" width="4.8" height="4.5" fill="#f6465d"/><rect x="646.37" y="527.8" width="4.8" height="4.9" fill="#2ebd85"/><rect x="652.69" y="527.8" width="4.8" height="4.9" fill="#2ebd85"/><rect x="659" y="522.2" width="4.8" height="10.5" fill="#f6465d"/><rect x="665.32" y="522.7" width="4.8" height="10" fill="#f6465d"/><rect x="671.63" y="524.4" width="4.8" height="8.3" fill="#2ebd85"/><rect x="677.95" y="528.9" width="4.8" height="3.8" fill="#f6465d"/><rect x="684.26" y="520.9" width="4.8" height="11.8" fill="#f6465d"/><rect x="690.58" y="506.8" width="4.8" height="25.9" fill="#f6465d"/><rect x="696.89" y="518.9" width="4.8" height="13.8" fill="#2ebd85"/><rect x="703.21" y="523.7" width="4.8" height="9" fill="#f6465d"/><rect x="709.52" y="523.7" width="4.8" height="9" fill="#f6465d"/><rect x="715.84" y="524.4" width="4.8" height="8.3" fill="#2ebd85"/><rect x="722.15" y="525" width="4.8" height="7.7" fill="#2ebd85"/><rect x="728.47" y="524.8" width="4.8" height="7.9" fill="#f6465d"/><rect x="734.78" y="511.2" width="4.8" height="21.5" fill="#2ebd85"/><rect x="741.1" y="526.9" width="4.8" height="5.8" fill="#2ebd85"/><rect x="747.41" y="529.1" width="4.8" height="3.6" fill="#f6465d"/><rect x="753.73" y="528.5" width="4.8" height="4.2" fill="#f6465d"/><rect x="760.04" y="525.8" width="4.8" height="6.9" fill="#2ebd85"/><rect x="766.36" y="527.9" width="4.8" height="4.8" fill="#2ebd85"/><rect x="772.67" y="526.6" width="4.8" height="6.1" fill="#f6465d"/><rect x="778.99" y="527.9" width="4.8" height="4.8" fill="#f6465d"/><rect x="785.3" y="496.9" width="4.8" height="35.8" fill="#f6465d"/><rect x="791.62" y="450.9" width="4.8" height="81.8" fill="#2ebd85"/><rect x="797.93" y="503.8" width="4.8" height="28.9" fill="#2ebd85"/><rect x="804.25" y="518.9" width="4.8" height="13.8" fill="#f6465d"/><rect x="810.56" y="505" width="4.8" height="27.7" fill="#2ebd85"/><rect x="816.88" y="509" width="4.8" height="23.7" fill="#2ebd85"/><rect x="823.19" y="516.7" width="4.8" height="16" fill="#2ebd85"/><rect x="829.51" y="521" width="4.8" height="11.7" fill="#f6465d"/><rect x="835.82" y="523.1" width="4.8" height="9.6" fill="#f6465d"/><rect x="842.14" y="523.4" width="4.8" height="9.3" fill="#f6465d"/><rect x="848.45" y="527.9" width="4.8" height="4.8" fill="#2ebd85"/><rect x="854.77" y="524.2" width="4.8" height="8.5" fill="#f6465d"/><rect x="861.08" y="524.7" width="4.8" height="8" fill="#f6465d"/><rect x="867.4" y="525" width="4.8" height="7.7" fill="#2ebd85"/><rect x="873.71" y="527.9" width="4.8" height="4.8" fill="#f6465d"/><rect x="880.03" y="526.9" width="4.8" height="5.8" fill="#2ebd85"/><rect x="886.34" y="527.4" width="4.8" height="5.3" fill="#f6465d"/><rect x="892.66" y="526.6" width="4.8" height="6.1" fill="#2ebd85"/><rect x="898.97" y="527.4" width="4.8" height="5.3" fill="#f6465d"/><rect x="905.29" y="526.9" width="4.8" height="5.8" fill="#f6465d"/><rect x="911.6" y="523.4" width="4.8" height="9.3" fill="#2ebd85"/><rect x="917.92" y="526.9" width="4.8" height="5.8" fill="#f6465d"/><rect x="924.23" y="526.9" width="4.8" height="5.8" fill="#2ebd85"/><rect x="930.55" y="523.1" width="4.8" height="9.6" fill="#2ebd85"/><rect x="936.86" y="526.3" width="4.8" height="6.4" fill="#2ebd85"/><rect x="943.18" y="526.3" width="4.8" height="6.4" fill="#f6465d"/><rect x="949.49" y="527.6" width="4.8" height="5.1" fill="#f6465d"/><rect x="955.81" y="527.6" width="4.8" height="5.1" fill="#f6465d"/><rect x="962.12" y="526.9" width="4.8" height="5.8" fill="#f6465d"/><rect x="968.44" y="523.1" width="4.8" height="9.6" fill="#2ebd85"/><rect x="974.75" y="526.9" width="4.8" height="5.8" fill="#2ebd85"/><rect x="981.07" y="524" width="4.8" height="8.7" fill="#f6465d"/><rect x="987.38" y="524" width="4.8" height="8.7" fill="#2ebd85"/><rect x="993.7" y="524.4" width="4.8" height="8.3" fill="#f6465d"/><rect x="1000.01" y="525" width="4.8" height="7.7" fill="#f6465d"/><rect x="1006.33" y="528.9" width="4.8" height="3.8" fill="#2ebd85"/><rect x="1012.64" y="526.9" width="4.8" height="5.8" fill="#2ebd85"/><rect x="1018.96" y="520.2" width="4.8" height="12.5" fill="#2ebd85"/><rect x="1025.27" y="521.2" width="4.8" height="11.5" fill="#2ebd85"/><rect x="1031.59" y="527.8" width="4.8" height="4.9" fill="#2ebd85"/><rect x="1037.9" y="526.3" width="4.8" height="6.4" fill="#f6465d"/><rect x="1044.22" y="526.3" width="4.8" height="6.4" fill="#2ebd85"/><rect x="1050.53" y="515.4" width="4.8" height="17.3" fill="#2ebd85"/><rect x="1056.85" y="525.3" width="4.8" height="7.4" fill="#2ebd85"/><rect x="1063.16" y="500.1" width="4.8" height="32.6" fill="#2ebd85"/><rect x="1069.48" y="510.3" width="4.8" height="22.4" fill="#2ebd85"/><rect x="1075.79" y="509.7" width="4.8" height="23" fill="#2ebd85"/><path d="M2.7 265.3 L4.64 265.19 L10.96 264.87 L17.27 264.55 L23.59 264.23 L29.9 263.89 L36.22 263.52 L42.53 263.09 L48.85 262.6 L55.16 262.06 L61.48 261.5 L67.79 260.94 L74.11 260.4 L80.42 259.91 L86.73 259.48 L93.05 259.08 L99.37 258.76 L105.68 258.55 L112 258.52 L118.31 258.79 L124.63 259.17 L130.94 259.42 L137.25 259.56 L143.57 259.67 L149.88 259.78 L156.2 259.87 L162.51 259.95 L168.83 260.03 L175.15 260.11 L181.46 260.2 L187.78 260.29 L194.09 260.39 L200.41 260.49 L206.72 260.58 L213.03 260.66 L219.35 260.73 L225.66 260.78 L231.98 260.79 L238.29 260.68 L244.61 260.54 L250.93 260.51 L257.24 260.62 L263.56 260.83 L269.87 261.13 L276.19 261.5 L282.5 261.91 L288.81 262.3 L295.13 262.62 L301.44 262.88 L307.76 263.11 L314.07 263.32 L320.39 263.52 L326.7 263.72 L333.02 263.92 L339.33 264.12 L345.65 264.32 L351.97 264.52 L358.28 264.72 L364.6 264.92 L370.91 265.13 L377.23 265.35 L383.54 265.58 L389.86 265.81 L396.17 266.03 L402.49 266.25 L408.8 266.44 L415.12 266.61 L421.43 266.77 L427.75 266.96 L434.06 267.17 L440.38 267.43 L446.69 267.75 L453 268.11 L459.32 268.5 L465.63 268.91 L471.95 269.34 L478.27 269.76 L484.58 270.17 L490.9 270.55 L497.21 270.92 L503.53 271.28 L509.84 271.63 L516.16 271.97 L522.47 272.32 L528.78 272.67 L535.1 273.02 L541.41 273.39 L547.73 273.77 L554.05 274.14 L560.36 274.51 L566.68 274.87 L572.99 275.25 L579.31 275.64 L585.62 276.07 L591.94 276.53 L598.25 277.05 L604.57 277.64 L610.88 278.34 L617.2 279.13 L623.51 279.96 L629.83 280.8 L636.14 281.62 L642.46 282.41 L648.77 283.19 L655.09 283.98 L661.4 284.8 L667.72 285.67 L674.03 286.61 L680.35 287.63 L686.66 288.72 L692.98 289.83 L699.29 290.94 L705.61 292.01 L711.92 293.02 L718.24 294 L724.55 294.96 L730.87 295.9 L737.18 296.82 L743.5 297.73 L749.81 298.58 L756.12 299.38 L762.44 300.17 L768.75 301.02 L775.07 302.01 L781.38 303.13 L787.7 304.2 L794.01 305.05 L800.33 305.78 L806.64 306.37 L812.96 306.83 L819.28 307.2 L825.59 307.53 L831.91 307.83 L838.22 308.1 L844.54 308.37 L850.85 308.65 L857.17 308.94 L863.48 309.24 L869.8 309.54 L876.11 309.83 L882.43 310.1 L888.74 310.36 L895.06 310.59 L901.37 310.8 L907.69 311.01 L914 311.2 L920.32 311.32 L926.63 311.36 L932.95 311.29 L939.26 311.11 L945.58 310.87 L951.89 310.58 L958.21 310.26 L964.52 309.92 L970.84 309.57 L977.15 309.23 L983.47 308.91 L989.78 308.61 L996.1 308.33 L1002.41 308.04 L1008.73 307.72 L1015.04 307.37 L1021.36 306.97 L1027.67 306.57 L1033.99 306.14 L1040.3 305.65 L1046.62 305.07 L1052.93 304.36 L1059.25 303.43 L1065.56 302.33 L1071.88 301.15 L1078.19 300.02" fill="none" stroke="#b385f8" stroke-width="1.1" stroke-linejoin="round" stroke-linecap="round"/><path d="M2.7 266 L4.64 266.39 L10.96 267.72 L17.27 268.91 L23.59 269.88 L29.9 270.73 L36.22 271.35 L42.53 271.69 L48.85 271.85 L55.16 271.94 L61.48 272.1 L67.79 272.44 L74.11 272.84 L80.42 273.09 L86.73 273.01 L93.05 272.7 L99.37 272.33 L105.68 272.1 L112 272.2 L118.31 272.75 L124.63 273.43 L130.94 273.9 L137.25 274.07 L143.57 274.11 L149.88 274.02 L156.2 273.8 L162.51 273.15 L168.83 272.23 L175.15 271.14 L181.46 270.11 L187.78 269.25 L194.09 268.46 L200.41 267.67 L206.72 266.8 L213.03 265.79 L219.35 264.67 L225.66 263.57 L231.98 262.59 L238.29 261.74 L244.61 260.93 L250.93 260.07 L257.24 259.08 L263.56 258.1 L269.87 257.3 L276.19 256.64 L282.5 256.04 L288.81 255.43 L295.13 254.74 L301.44 253.74 L307.76 252.85 L314.07 252.42 L320.39 252.41 L326.7 253.1 L333.02 254.31 L339.33 255.46 L345.65 256.58 L351.97 257.73 L358.28 258.95 L364.6 260.27 L370.91 261.7 L377.23 263.24 L383.54 264.96 L389.86 266.9 L396.17 268.89 L402.49 270.7 L408.8 272.27 L415.12 273.48 L421.43 274.28 L427.75 274.9 L434.06 275.57 L440.38 276.38 L446.69 277.37 L453 278.83 L459.32 280.67 L465.63 282.65 L471.95 284.83 L478.27 286.46 L484.58 287.42 L490.9 288.08 L497.21 288.51 L503.53 288.83 L509.84 289.33 L516.16 289.98 L522.47 290.67 L528.78 291.32 L535.1 291.83 L541.41 291.98 L547.73 291.96 L554.05 292.22 L560.36 293.49 L566.68 295.94 L572.99 297.66 L579.31 299.09 L585.62 300.4 L591.94 301.6 L598.25 302.62 L604.57 303.6 L610.88 304.71 L617.2 306.06 L623.51 307.56 L629.83 309.24 L636.14 311.14 L642.46 313.32 L648.77 315.7 L655.09 318.19 L661.4 320.75 L667.72 323.42 L674.03 326.29 L680.35 329.5 L686.66 333.12 L692.98 337.01 L699.29 341.16 L705.61 345.36 L711.92 349.36 L718.24 351.76 L724.55 353.72 L730.87 355.61 L737.18 357.3 L743.5 358.82 L749.81 360.26 L756.12 361.61 L762.44 362.88 L768.75 364 L775.07 365.02 L781.38 365.98 L787.7 367.09 L794.01 367.59 L800.33 366.81 L806.64 365.08 L812.96 362.04 L819.28 358.2 L825.59 353.95 L831.91 349.95 L838.22 346.25 L844.54 342.31 L850.85 337.83 L857.17 333.72 L863.48 329.62 L869.8 325.35 L876.11 321.24 L882.43 317.66 L888.74 314.3 L895.06 310.69 L901.37 307.41 L907.69 305.06 L914 301.49 L920.32 297.63 L926.63 293.48 L932.95 288.82 L939.26 283.78 L945.58 278.67 L951.89 273.97 L958.21 270.62 L964.52 268.17 L970.84 266.7 L977.15 265.75 L983.47 264.92 L989.78 263.93 L996.1 262.93 L1002.41 262.05 L1008.73 261.48 L1015.04 260.94 L1021.36 259.92 L1027.67 258.29 L1033.99 256.32 L1040.3 254.15 L1046.62 251.82 L1052.93 249.28 L1059.25 246.62 L1065.56 243.87 L1071.88 240.97 L1078.19 238.05" fill="none" stroke="#eb40b5" stroke-width="1.1" stroke-linejoin="round" stroke-linecap="round"/><path d="M2.5 270.71 L4.64 271.51 L10.96 275.51 L17.27 276.61 L23.59 277.71 L29.9 280.01 L36.22 281.21 L42.53 280.71 L48.85 279.83 L55.16 277.69 L61.48 276.2 L67.79 274.73 L74.11 271.74 L80.42 268.7 L86.73 267.99 L93.05 267.3 L99.37 266.17 L105.68 265.64 L112 266.73 L118.31 267.86 L124.63 270.36 L130.94 274.74 L137.25 274.31 L143.57 276.13 L149.88 277.5 L156.2 276.61 L162.51 274.71 L168.83 272.37 L175.15 267.99 L181.46 267.31 L187.78 263.66 L194.09 261.06 L200.41 258.57 L206.72 256.81 L213.03 253.99 L219.35 251.36 L225.66 249.63 L231.98 248.37 L238.29 244.59 L244.61 241.83 L250.93 240.86 L257.24 241.21 L263.56 242.93 L269.87 245.63 L276.19 248.03 L282.5 251.69 L288.81 255.59 L295.13 256.51 L301.44 257.79 L307.76 258.51 L314.07 256.86 L320.39 257.87 L326.7 260.07 L333.02 263.4 L339.33 269.41 L345.65 274.39 L351.97 279.46 L358.28 284.14 L364.6 285.69 L370.91 285.11 L377.23 284.39 L383.54 283.36 L389.86 283.06 L396.17 282 L402.49 281.9 L408.8 281.49 L415.12 281.06 L421.43 280.47 L427.75 279.36 L434.06 279.17 L440.38 279.43 L446.69 280.6 L453 284.31 L459.32 288.99 L465.63 294.79 L471.95 298.36 L478.27 300.17 L484.58 300.97 L490.9 301.34 L497.21 300.63 L503.53 299.87 L509.84 297.4 L516.16 297.66 L522.47 297.13 L528.78 298.47 L535.1 298.29 L541.41 297.99 L547.73 295.14 L554.05 294.3 L560.36 296.19 L566.68 301.06 L572.99 302.96 L579.31 304.56 L585.62 307.87 L591.94 312.86 L598.25 315.64 L604.57 315.66 L610.88 315.84 L617.2 319.14 L623.51 324.63 L629.83 330.36 L636.14 336.19 L642.46 343.2 L648.77 349.03 L655.09 351.83 L661.4 355.67 L667.72 359.24 L674.03 360.53 L680.35 363.64 L686.66 367.67 L692.98 374.69 L699.29 379.1 L705.61 382.24 L711.92 385.23 L718.24 385.13 L724.55 383.13 L730.87 380.16 L737.18 372.23 L743.5 367.53 L749.81 362.49 L756.12 357.87 L762.44 355.9 L768.75 354.3 L775.07 352.64 L781.38 353.87 L787.7 361.14 L794.01 363.71 L800.33 358.9 L806.64 355.96 L812.96 346.43 L819.28 334.57 L825.59 321.27 L831.91 303.43 L838.22 291.77 L844.54 286.73 L850.85 278.17 L857.17 276.86 L863.48 277.2 L869.8 278.27 L876.11 279.13 L882.43 277.44 L888.74 276 L895.06 275.67 L901.37 275.27 L907.69 274.73 L914 272.67 L920.32 270.53 L926.63 267.79 L932.95 262.73 L939.26 259.19 L945.58 256.46 L951.89 253.73 L958.21 253.81 L964.52 253.87 L970.84 252.74 L977.15 252.7 L983.47 253.53 L989.78 252.41 L996.1 252.93 L1002.41 254.4 L1008.73 254.21 L1015.04 256.01 L1021.36 256.11 L1027.67 253.31 L1033.99 251.11 L1040.3 247.27 L1046.62 240.43 L1052.93 233.29 L1059.25 224.69 L1065.56 218.01 L1071.88 212.63 L1078.19 204.27" fill="none" stroke="#f0b90b" stroke-width="1.1" stroke-linejoin="round" stroke-linecap="round"/><path d="M4.64 522.9 L10.96 523.3 L17.27 522.5 L23.59 523.5 L29.9 526.7 L36.22 528.2 L42.53 528.36 L48.85 528.53 L55.16 528.8 L61.48 529.41 L67.79 529.71 L74.11 529.96 L80.42 530.33 L86.73 530.69 L93.05 530.93 L99.37 531.16 L105.68 531.34 L112 531.41 L118.31 531.54 L124.63 531.67 L130.94 531.71 L137.25 531.7 L143.57 531.7 L149.88 531.7 L156.2 531.2 L162.51 530.24 L168.83 529.74 L175.15 529.37 L181.46 528.73 L187.78 528.36 L194.09 528.04 L200.41 528.23 L206.72 528.81 L213.03 528.63 L219.35 527.86 L225.66 528.13 L231.98 528.1 L238.29 528.04 L244.61 527.96 L250.93 527.96 L257.24 527.87 L263.56 528.51 L269.87 521.93 L276.19 521.56 L282.5 520.76 L288.81 520.3 L295.13 519.81 L301.44 520.09 L307.76 520.19 L314.07 526.29 L320.39 521.99 L326.7 522.57 L333.02 523.06 L339.33 523.33 L345.65 523.33 L351.97 523.41 L358.28 523.83 L364.6 528.46 L370.91 528.41 L377.23 528.53 L383.54 527.89 L389.86 528.13 L396.17 528.21 L402.49 528.59 L408.8 528.77 L415.12 529.27 L421.43 528.76 L427.75 530.04 L434.06 529.34 L440.38 529.34 L446.69 529.19 L453 528.49 L459.32 528.3 L465.63 528.44 L471.95 528.16 L478.27 528.89 L484.58 528.86 L490.9 527.03 L497.21 527.59 L503.53 527.5 L509.84 527.87 L516.16 527.84 L522.47 527.81 L528.78 528 L535.1 529.24 L541.41 529.41 L547.73 529.59 L554.05 529.61 L560.36 529.19 L566.68 527.24 L572.99 524.93 L579.31 524.51 L585.62 523.43 L591.94 522.51 L598.25 522.34 L604.57 522.26 L610.88 523.96 L617.2 525.57 L623.51 526.11 L629.83 526.84 L636.14 527.43 L642.46 527.33 L648.77 527.54 L655.09 527.49 L661.4 526.9 L667.72 526.3 L674.03 525.84 L680.35 526 L686.66 524.96 L692.98 521.96 L699.29 520.69 L705.61 520.9 L711.92 521.04 L718.24 521.04 L724.55 520.49 L730.87 521.04 L737.18 521.67 L743.5 522.81 L749.81 523.59 L756.12 524.27 L762.44 524.47 L768.75 524.89 L775.07 525.14 L781.38 527.53 L787.7 523.24 L794.01 512.07 L800.33 508.54 L806.64 507.56 L812.96 504.29 L819.28 501.77 L825.59 500.17 L831.91 503.61 L838.22 513.93 L844.54 516.73 L850.85 518.01 L857.17 520.76 L863.48 523 L869.8 524.19 L876.11 525.17 L882.43 525.71 L888.74 526.29 L895.06 526.1 L901.37 526.56 L907.69 526.87 L914 526.64 L920.32 526.5 L926.63 526.5 L932.95 525.89 L939.26 525.84 L945.58 525.69 L951.89 525.79 L958.21 526.39 L964.52 526.39 L970.84 525.84 L977.15 526.39 L983.47 526.06 L989.78 525.73 L996.1 525.27 L1002.41 524.9 L1008.73 525.19 L1015.04 525.73 L1021.36 524.77 L1027.67 524.37 L1033.99 524.91 L1040.3 525.19 L1046.62 525.37 L1052.93 523.44 L1059.25 523.21 L1065.56 520.34 L1071.88 518.79 L1078.19 516.2" fill="none" stroke="#5fc8e8" stroke-width="1.7" stroke-linejoin="round" stroke-linecap="round"/><path d="M4.64 526 L10.96 525.94 L17.27 525.72 L23.59 525.72 L29.9 525.72 L36.22 525.66 L42.53 525.64 L48.85 525.71 L55.16 526.05 L61.48 525.96 L67.79 526.61 L74.11 528.33 L80.42 529.26 L86.73 529.52 L93.05 529.73 L99.37 529.98 L105.68 530.38 L112 530.56 L118.31 530.75 L124.63 531 L130.94 531.2 L137.25 531.31 L143.57 531.43 L149.88 531.52 L156.2 531.31 L162.51 530.89 L168.83 530.71 L175.15 530.54 L181.46 530.21 L187.78 530.03 L194.09 529.87 L200.41 529.71 L206.72 529.53 L213.03 529.19 L219.35 528.61 L225.66 528.43 L231.98 528.23 L238.29 528.04 L244.61 528.09 L250.93 528.39 L257.24 528.25 L263.56 528.19 L269.87 525.03 L276.19 524.83 L282.5 524.4 L288.81 524.13 L295.13 523.89 L301.44 523.98 L307.76 524.35 L314.07 524.11 L320.39 521.77 L326.7 521.66 L333.02 521.68 L339.33 521.57 L345.65 521.71 L351.97 521.8 L358.28 525.06 L364.6 525.22 L370.91 525.49 L377.23 525.79 L383.54 525.61 L389.86 525.73 L396.17 525.81 L402.49 526.21 L408.8 528.61 L415.12 528.84 L421.43 528.64 L427.75 528.96 L434.06 528.74 L440.38 528.78 L446.69 528.89 L453 528.63 L459.32 528.79 L465.63 528.6 L471.95 529.1 L478.27 529.11 L484.58 529.1 L490.9 528.11 L497.21 528.04 L503.53 527.9 L509.84 528.16 L516.16 528 L522.47 528.35 L528.78 528.43 L535.1 528.14 L541.41 528.5 L547.73 528.54 L554.05 528.74 L560.36 528.51 L566.68 527.53 L572.99 526.46 L579.31 526.88 L585.62 526.42 L591.94 526.05 L598.25 525.98 L604.57 525.72 L610.88 525.6 L617.2 525.25 L623.51 525.31 L629.83 525.14 L636.14 524.97 L642.46 524.84 L648.77 524.9 L655.09 525.72 L661.4 526.24 L667.72 526.21 L674.03 526.34 L680.35 526.71 L686.66 526.14 L692.98 524.75 L699.29 524.09 L705.61 523.9 L711.92 523.67 L718.24 523.44 L724.55 523.24 L730.87 523 L737.18 521.81 L743.5 521.75 L749.81 522.24 L756.12 522.66 L762.44 522.76 L768.75 522.69 L775.07 523.09 L781.38 524.6 L787.7 523.03 L794.01 517.83 L800.33 516.41 L806.64 516.01 L812.96 514.59 L819.28 513.46 L825.59 513.85 L831.91 513.43 L838.22 513 L844.54 512.64 L850.85 512.79 L857.17 512.52 L863.48 512.39 L869.8 512.18 L876.11 514.39 L882.43 519.82 L888.74 521.51 L895.06 522.06 L901.37 523.66 L907.69 524.94 L914 525.41 L920.32 525.84 L926.63 526.11 L932.95 526.09 L939.26 525.97 L945.58 526.12 L951.89 526.33 L958.21 526.51 L964.52 526.44 L970.84 526.17 L977.15 526.14 L983.47 525.95 L989.78 525.71 L996.1 525.53 L1002.41 525.64 L1008.73 525.79 L1015.04 525.79 L1021.36 525.58 L1027.67 525.21 L1033.99 525.32 L1040.3 525.23 L1046.62 525.14 L1052.93 524.31 L1059.25 524.47 L1065.56 522.56 L1071.88 521.58 L1078.19 520.56" fill="none" stroke="#e0356f" stroke-width="1.7" stroke-linejoin="round" stroke-linecap="round"/><!-- axes -->
<line x1="2.5" y1="140" x2="2.5" y2="567" stroke="#2b3139" stroke-width="1"/>
<rect x="1167" y="140" width="2" height="434" fill="#262b35"/>
<rect x="3" y="441" width="1245" height="2" fill="#262b35"/>
<rect x="3" y="540.8" width="1164" height="1.8" fill="#262b35"/><rect x="1167" y="540.8" width="81" height="1.8" fill="#2b313b"/>
<line x1="698.9" y1="29.4" x2="747.5" y2="29.4" stroke="#848e9c" stroke-width="1" stroke-dasharray="2.7 1.8"/>
<text x="78.0" y="26.4" font-size="16.8" fill="#eaecef" textLength="103.5" lengthAdjust="spacingAndGlyphs" stroke="#eaecef" stroke-width="0.35">BARD/USDT</text>
<text x="219.0" y="26.8" font-size="17" fill="#f6465d" textLength="57.7" lengthAdjust="spacingAndGlyphs" stroke="#f6465d" stroke-width="0.3">0.7642</text>
<text x="77.7" y="44.0" font-size="10.6" fill="#7a8492" textLength="72.1" lengthAdjust="spacingAndGlyphs">Lombard Price</text>
<text x="219.0" y="43.9" font-size="11" fill="#eaecef" textLength="69.7" lengthAdjust="spacingAndGlyphs" stroke="#eaecef" stroke-width="0.2">$0.76420000</text>
<text x="304.0" y="23.1" font-size="11.2" fill="#848e9c" textLength="43.5" lengthAdjust="spacingAndGlyphs">24h Chg</text>
<text x="304.0" y="43.9" font-size="11" fill="#2ebd85" textLength="77.0" lengthAdjust="spacingAndGlyphs" stroke="#2ebd85" stroke-width="0.15">0.0627 +8.95%</text>
<text x="397.0" y="23.1" font-size="11.2" fill="#848e9c" textLength="46.5" lengthAdjust="spacingAndGlyphs">24h High</text>
<text x="397.0" y="43.9" font-size="11" fill="#eaecef" textLength="36.0" lengthAdjust="spacingAndGlyphs" stroke="#eaecef" stroke-width="0.2">0.7675</text>
<text x="459.5" y="23.1" font-size="11.2" fill="#848e9c" textLength="43.0" lengthAdjust="spacingAndGlyphs">24h Low</text>
<text x="459.5" y="43.9" font-size="11" fill="#eaecef" textLength="36.0" lengthAdjust="spacingAndGlyphs" stroke="#eaecef" stroke-width="0.2">0.6470</text>
<text x="518.0" y="23.1" font-size="11.2" fill="#848e9c" textLength="75.0" lengthAdjust="spacingAndGlyphs">24h Vol(BARD)</text>
<text x="518.0" y="43.9" font-size="11" fill="#eaecef" textLength="68.5" lengthAdjust="spacingAndGlyphs" stroke="#eaecef" stroke-width="0.2">5,917,218.90</text>
<text x="609.4" y="23.1" font-size="11.2" fill="#848e9c" textLength="73.9" lengthAdjust="spacingAndGlyphs">24h Vol(USDT)</text>
<text x="609.4" y="43.9" font-size="11" fill="#eaecef" textLength="67.9" lengthAdjust="spacingAndGlyphs" stroke="#eaecef" stroke-width="0.2">4,138,844.92</text>
<text x="698.9" y="22.2" font-size="11.2" fill="#848e9c" textLength="48.0" lengthAdjust="spacingAndGlyphs">Networks</text>
<text x="698.9" y="43.9" font-size="11" fill="#eaecef" textLength="46.1" lengthAdjust="spacingAndGlyphs" stroke="#eaecef" stroke-width="0.2">BARD (2)</text>
<text x="763.7" y="23.1" font-size="11.2" fill="#848e9c" textLength="56.4" lengthAdjust="spacingAndGlyphs">Token Tags</text>
<text x="763.7" y="43.9" font-size="11" fill="#f0b90b" textLength="22.6" lengthAdjust="spacingAndGlyphs" stroke="#f0b90b" stroke-width="0.1">DeFi</text>
<text x="794.7" y="43.9" font-size="11" fill="#f0b90b" textLength="25.4" lengthAdjust="spacingAndGlyphs" stroke="#f0b90b" stroke-width="0.1">Seed</text>
<text x="828.5" y="43.9" font-size="11" fill="#f0b90b" textLength="33.6" lengthAdjust="spacingAndGlyphs" stroke="#f0b90b" stroke-width="0.1">Gainer</text>
<text x="17.5" y="82.3" font-size="13.2" fill="#eaecef" textLength="31.5" lengthAdjust="spacingAndGlyphs" stroke="#eaecef" stroke-width="0.35">Chart</text>
<text x="72.5" y="82.3" font-size="13.2" fill="#848e9c" textLength="22.0" lengthAdjust="spacingAndGlyphs" stroke="#848e9c" stroke-width="0.1">Info</text>
<text x="117.5" y="82.3" font-size="13.2" fill="#848e9c" textLength="73.5" lengthAdjust="spacingAndGlyphs" stroke="#848e9c" stroke-width="0.1">Trading Data</text>
<text x="214.0" y="82.3" font-size="13.2" fill="#848e9c" textLength="30.5" lengthAdjust="spacingAndGlyphs" stroke="#848e9c" stroke-width="0.1">Audit</text>
<text x="267.0" y="82.3" font-size="13.2" fill="#848e9c" textLength="41.0" lengthAdjust="spacingAndGlyphs" stroke="#848e9c" stroke-width="0.1">Square</text>
<text x="18.2" y="124.0" font-size="11" fill="#848e9c" textLength="24.9" lengthAdjust="spacingAndGlyphs" stroke="#848e9c" stroke-width="0.25">Time</text>
<text x="54.0" y="124.0" font-size="11" fill="#848e9c" textLength="10.9" lengthAdjust="spacingAndGlyphs" stroke="#848e9c" stroke-width="0.25">1s</text>
<text x="75.8" y="124.0" font-size="11" fill="#eaecef" textLength="21.4" lengthAdjust="spacingAndGlyphs" stroke="#eaecef" stroke-width="0.5">15m</text>
<text x="107.9" y="124.0" font-size="11" fill="#848e9c" textLength="13.5" lengthAdjust="spacingAndGlyphs" stroke="#848e9c" stroke-width="0.25">1H</text>
<text x="131.8" y="124.0" font-size="11" fill="#848e9c" textLength="14.4" lengthAdjust="spacingAndGlyphs" stroke="#848e9c" stroke-width="0.25">4H</text>
<text x="156.8" y="124.0" font-size="11" fill="#848e9c" textLength="13.4" lengthAdjust="spacingAndGlyphs" stroke="#848e9c" stroke-width="0.25">1D</text>
<text x="180.8" y="124.0" font-size="11" fill="#848e9c" textLength="15.4" lengthAdjust="spacingAndGlyphs" stroke="#848e9c" stroke-width="0.25">1W</text>
<text x="1065.2" y="124.0" font-size="11" fill="#eaecef" textLength="39.6" lengthAdjust="spacingAndGlyphs" stroke="#eaecef" stroke-width="0.35">Original</text>
<text x="1120.7" y="124.0" font-size="11" fill="#848e9c" textLength="66.0" lengthAdjust="spacingAndGlyphs" stroke="#848e9c" stroke-width="0.2">Trading View</text>
<text x="1201.6" y="124.0" font-size="11" fill="#848e9c" textLength="30.8" lengthAdjust="spacingAndGlyphs" stroke="#848e9c" stroke-width="0.2">Depth</text>
<text x="31.5" y="160.1" font-size="11.3" fill="#848e9c" textLength="92.2" lengthAdjust="spacingAndGlyphs">2026/02/06 13:30</text>
<text x="132.0" y="160.1" font-size="11.3" fill="#848e9c" textLength="27.0" lengthAdjust="spacingAndGlyphs">Open</text>
<text x="167.6" y="160.1" font-size="11.3" fill="#2ebd85" textLength="36.0" lengthAdjust="spacingAndGlyphs" stroke="#2ebd85" stroke-width="0.15">0.7541</text>
<text x="212.4" y="160.1" font-size="11.3" fill="#848e9c" textLength="23.6" lengthAdjust="spacingAndGlyphs">High</text>
<text x="244.4" y="160.1" font-size="11.3" fill="#2ebd85" textLength="36.2" lengthAdjust="spacingAndGlyphs" stroke="#2ebd85" stroke-width="0.15">0.7675</text>
<text x="289.4" y="160.1" font-size="11.3" fill="#848e9c" textLength="19.6" lengthAdjust="spacingAndGlyphs">Low</text>
<text x="317.6" y="160.1" font-size="11.3" fill="#2ebd85" textLength="36.0" lengthAdjust="spacingAndGlyphs" stroke="#2ebd85" stroke-width="0.15">0.7525</text>
<text x="362.0" y="160.1" font-size="11.3" fill="#848e9c" textLength="28.1" lengthAdjust="spacingAndGlyphs">Close</text>
<text x="398.6" y="160.1" font-size="11.3" fill="#2ebd85" textLength="36.2" lengthAdjust="spacingAndGlyphs" stroke="#2ebd85" stroke-width="0.15">0.7642</text>
<text x="443.4" y="160.1" font-size="11.3" fill="#848e9c" textLength="46.6" lengthAdjust="spacingAndGlyphs">CHANGE</text>
<text x="498.9" y="160.1" font-size="11.3" fill="#2ebd85" textLength="31.0" lengthAdjust="spacingAndGlyphs" stroke="#2ebd85" stroke-width="0.15">1.33%</text>
<text x="538.1" y="160.1" font-size="11.3" fill="#848e9c" textLength="31.2" lengthAdjust="spacingAndGlyphs">Range</text>
<text x="578.3" y="160.1" font-size="11.3" fill="#2ebd85" textLength="31.0" lengthAdjust="spacingAndGlyphs" stroke="#2ebd85" stroke-width="0.15">1.98%</text>
<text x="31.8" y="186.1" font-size="11.3" fill="#848e9c" textLength="30.0" lengthAdjust="spacingAndGlyphs">MA(7)</text>
<text x="70.2" y="186.1" font-size="11.3" fill="#f0b90b" textLength="36.1" lengthAdjust="spacingAndGlyphs" stroke="#f0b90b" stroke-width="0.15">0.7485</text>
<text x="115.0" y="186.1" font-size="11.3" fill="#848e9c" textLength="36.8" lengthAdjust="spacingAndGlyphs">MA(25)</text>
<text x="160.0" y="186.1" font-size="11.3" fill="#eb40b5" textLength="36.4" lengthAdjust="spacingAndGlyphs" stroke="#eb40b5" stroke-width="0.15">0.7324</text>
<text x="205.0" y="186.1" font-size="11.3" fill="#848e9c" textLength="36.6" lengthAdjust="spacingAndGlyphs">MA(99)</text>
<text x="250.0" y="186.1" font-size="11.3" fill="#b385f8" textLength="36.4" lengthAdjust="spacingAndGlyphs" stroke="#b385f8" stroke-width="0.15">0.7025</text>
<text x="31.2" y="462.3" font-size="11.3" fill="#848e9c" textLength="52.1" lengthAdjust="spacingAndGlyphs">Vol(BARD)</text>
<text x="92.4" y="462.3" font-size="11.3" fill="#eaecef" textLength="49.7" lengthAdjust="spacingAndGlyphs" stroke="#eaecef" stroke-width="0.15">150.502K</text>
<text x="149.9" y="462.3" font-size="11.3" fill="#848e9c" textLength="51.0" lengthAdjust="spacingAndGlyphs">Vol(USDT)</text>
<text x="210.0" y="462.3" font-size="11.3" fill="#eaecef" textLength="49.4" lengthAdjust="spacingAndGlyphs" stroke="#eaecef" stroke-width="0.15">114.812K</text>
<text x="267.8" y="462.3" font-size="11.3" fill="#5fc8e8" textLength="49.1" lengthAdjust="spacingAndGlyphs" stroke="#5fc8e8" stroke-width="0.15">104.407K</text>
<text x="325.3" y="462.3" font-size="11.3" fill="#e0356f" textLength="43.0" lengthAdjust="spacingAndGlyphs" stroke="#e0356f" stroke-width="0.15">76.316K</text>
<text x="1175.2" y="184.0" font-size="11.4" fill="#848e9c" textLength="36.9" lengthAdjust="spacingAndGlyphs">0.7600</text>
<text x="1175.2" y="225.2" font-size="11.4" fill="#848e9c" textLength="36.9" lengthAdjust="spacingAndGlyphs">0.7400</text>
<text x="1175.2" y="267.1" font-size="11.4" fill="#848e9c" textLength="36.9" lengthAdjust="spacingAndGlyphs">0.7200</text>
<text x="1175.2" y="308.9" font-size="11.4" fill="#848e9c" textLength="36.9" lengthAdjust="spacingAndGlyphs">0.7000</text>
<text x="1175.2" y="350.8" font-size="11.4" fill="#848e9c" textLength="36.9" lengthAdjust="spacingAndGlyphs">0.6800</text>
<text x="1175.2" y="392.6" font-size="11.4" fill="#848e9c" textLength="36.9" lengthAdjust="spacingAndGlyphs">0.6600</text>
<text x="1175.4" y="476.8" font-size="11.4" fill="#848e9c" textLength="25.9" lengthAdjust="spacingAndGlyphs">400K</text>
<text x="1175.4" y="505.8" font-size="11.4" fill="#848e9c" textLength="25.9" lengthAdjust="spacingAndGlyphs">200K</text>
<text x="15.6" y="563.0" font-size="11.2" fill="#848e9c" textLength="28.8" lengthAdjust="spacingAndGlyphs">20:00</text>
<text x="66.1" y="563.0" font-size="11.2" fill="#848e9c" textLength="28.8" lengthAdjust="spacingAndGlyphs">22:00</text>
<text x="116.6" y="563.0" font-size="11.2" fill="#848e9c" textLength="28.8" lengthAdjust="spacingAndGlyphs">00:00</text>
<text x="167.1" y="563.0" font-size="11.2" fill="#848e9c" textLength="28.8" lengthAdjust="spacingAndGlyphs">02/05</text>
<text x="217.6" y="563.0" font-size="11.2" fill="#848e9c" textLength="28.8" lengthAdjust="spacingAndGlyphs">04:00</text>
<text x="268.1" y="563.0" font-size="11.2" fill="#848e9c" textLength="28.8" lengthAdjust="spacingAndGlyphs">06:00</text>
<text x="318.7" y="563.0" font-size="11.2" fill="#848e9c" textLength="28.8" lengthAdjust="spacingAndGlyphs">08:00</text>
<text x="369.2" y="563.0" font-size="11.2" fill="#848e9c" textLength="28.8" lengthAdjust="spacingAndGlyphs">10:00</text>
<text x="419.7" y="563.0" font-size="11.2" fill="#848e9c" textLength="28.8" lengthAdjust="spacingAndGlyphs">12:00</text>
<text x="470.2" y="563.0" font-size="11.2" fill="#848e9c" textLength="28.8" lengthAdjust="spacingAndGlyphs">14:00</text>
<text x="520.7" y="563.0" font-size="11.2" fill="#848e9c" textLength="28.8" lengthAdjust="spacingAndGlyphs">16:00</text>
<text x="571.2" y="563.0" font-size="11.2" fill="#848e9c" textLength="28.8" lengthAdjust="spacingAndGlyphs">18:00</text>
<text x="621.7" y="563.0" font-size="11.2" fill="#848e9c" textLength="28.8" lengthAdjust="spacingAndGlyphs">20:00</text>
<text x="672.2" y="563.0" font-size="11.2" fill="#848e9c" textLength="28.8" lengthAdjust="spacingAndGlyphs">22:00</text>
<text x="722.7" y="563.0" font-size="11.2" fill="#848e9c" textLength="28.8" lengthAdjust="spacingAndGlyphs">00:00</text>
<text x="773.2" y="563.0" font-size="11.2" fill="#848e9c" textLength="28.8" lengthAdjust="spacingAndGlyphs">02/06</text>
<text x="823.8" y="563.0" font-size="11.2" fill="#848e9c" textLength="28.8" lengthAdjust="spacingAndGlyphs">04:00</text>
<text x="874.3" y="563.0" font-size="11.2" fill="#848e9c" textLength="28.8" lengthAdjust="spacingAndGlyphs">06:00</text>
<text x="924.8" y="563.0" font-size="11.2" fill="#848e9c" textLength="28.8" lengthAdjust="spacingAndGlyphs">08:00</text>
<text x="975.3" y="563.0" font-size="11.2" fill="#848e9c" textLength="28.8" lengthAdjust="spacingAndGlyphs">10:00</text>
<text x="1025.8" y="563.0" font-size="11.2" fill="#848e9c" textLength="28.8" lengthAdjust="spacingAndGlyphs">12:00</text>
<text x="1076.3" y="563.0" font-size="11.2" fill="#848e9c" textLength="28.8" lengthAdjust="spacingAndGlyphs">14:00</text>
<text x="1126.8" y="563.0" font-size="11.2" fill="#848e9c" textLength="28.8" lengthAdjust="spacingAndGlyphs">16:00</text>
<!-- current price tag -->
<rect x="1168" y="160.5" width="53.3" height="22.5" rx="4" fill="#2ebd85"/>
<text x="1176.2" y="178.2" font-size="11.4" fill="#ffffff" textLength="37" lengthAdjust="spacingAndGlyphs">0.7642</text>
<!-- high / low markers -->
<text x="1034.7" y="167.2" font-size="10.5" fill="#eaecef" textLength="29.3" lengthAdjust="spacingAndGlyphs">0.7675</text>
<rect x="1066.7" y="163" width="11.7" height="1.6" fill="#eaecef"/>
<text x="649.5" y="420.2" font-size="10.5" fill="#eaecef" textLength="29.3" lengthAdjust="spacingAndGlyphs">0.6470</text>
<rect x="681.7" y="416.8" width="11.4" height="1.2" fill="#eaecef"/>
<!-- legend chevrons -->
<path d="M18 153.8l3.8 3.8 3.8-3.8" fill="none" stroke="#848e9c" stroke-width="1.3"/>
<path d="M18 179.8l3.8 3.8 3.8-3.8" fill="none" stroke="#848e9c" stroke-width="1.3"/>
<path d="M18 456.1l3.8 3.8 3.8-3.8" fill="none" stroke="#848e9c" stroke-width="1.3"/>
<!-- left toggle -->
<rect x="4.5" y="494.5" width="10.5" height="30.5" rx="3.5" fill="#181a20" stroke="#333a45" stroke-width="1"/>
<path d="M7.8 506.8l3 3.3-3 3.3" fill="none" stroke="#5e6673" stroke-width="1.1"/>
<!-- event marker -->
<rect x="789.3" y="412.4" width="20" height="20.6" rx="5" fill="#181a20" stroke="#23272e" stroke-width="1"/>
<circle cx="809.5" cy="411.3" r="4.3" fill="#fcd535"/>
<path d="M797.2 417h7.8v9.5a1.5 1.5 0 0 1-1.5 1.5h-6.3z" fill="#848e9c"/>
<rect x="798.8" y="419" width="4.4" height="1.4" fill="#2b3139"/><rect x="798.8" y="422" width="4.4" height="1.4" fill="#2b3139"/>
<path d="M793.4 420.3h2.3l.6 6.8h-2z" fill="#f0b90b"/>
<!-- bottom right icons -->
<g stroke="#848e9c" fill="none" stroke-width="1.2">
<path d="M1201.7 551.6h13.3M1201.7 564.3h13.3M1208.3 554v8"/>
<path d="M1205.7 556.3l2.6-2.6 2.6 2.6M1205.7 559.7l2.6 2.6 2.6-2.6"/>
</g>
<path d="M1246.3 566v6.600h-6.300" fill="none" stroke="#8a94a2" stroke-width="1.8"/>
<!-- toolbar icons -->
<path d="M213.2 117.8h7.2l-3.6 4.4z" fill="#848e9c"/>
<g stroke="#848e9c" fill="none" stroke-width="1.2">
<rect x="241" y="115.3" width="12.6" height="11.2" rx="1"/><path d="M241 118.1h12.6M243.8 113.1v2.2M250.5 113.1v2.2M244.6 122.6h5.4M246.9 120.3l-2.3 2.3 2.3 2.3"/>
<path d="M271.6 113.1v13.2h12.4M273.1 124.1l3.9-4 2 1.7 4.1-3.6"/>
<rect x="302.6" y="117.4" width="3.8" height="5.6" rx="0.6"/><path d="M304.5 114.9v2.5M304.5 123v2.3"/>
<rect x="309.2" y="115.2" width="4" height="9.4" rx="0.6"/><path d="M311.2 113.7v1.5M311.2 124.6v2"/>
<path d="M331.3 114h13.5M331.3 120h4M331.3 125.8h4" stroke-width="1.4"/>
<path d="M340.6 117.3l4.1 2.4v4.8l-4.1 2.4-4.1-2.4v-4.8z"/>
<path d="M368.4 113.5l5.5 3.2v6.6l-5.5 3.2-5.5-3.2v-6.6z"/>
</g>
<path d="M275.4 116.4l-1.7-2.2h3.4z" fill="#848e9c"/>
<path d="M340.6 120.6l1.5 1.5-1.5 1.5-1.5-1.5z" fill="#848e9c"/>
<circle cx="368.4" cy="120" r="1.6" fill="#848e9c"/>
<!-- right icons -->
<defs><linearGradient id="aig" x1="0" y1="1" x2="1" y2="0"><stop offset="0" stop-color="#4f8ff5"/><stop offset="0.55" stop-color="#9b7cf6"/><stop offset="1" stop-color="#f7a8c4"/></linearGradient></defs>
<text x="1154.2" y="86" font-size="12.5" font-weight="bold" fill="url(#aig)" stroke="url(#aig)" stroke-width="0.5">A</text><rect x="1165.2" y="77" width="2.7" height="9" fill="#c58df5"/><rect x="1165.2" y="72.9" width="2.7" height="2.4" rx="0.8" fill="#f7a8c4"/>
<g stroke="#6a7381" fill="none" stroke-width="1.1">
<path d="M1185.2 85.4l3.6-3.6M1190.6 80l1.6-1.6M1194 76.600l3.6-3.600M1185.200 81.300v4.100h4.100M1193.600 72.500h4.100v4.100"/></g><g stroke="#848e9c" fill="none" stroke-width="1.2">
<rect x="1216.400" y="71.800" width="5.800" height="5.800" rx="0.6"/><path d="M1227.500 70.800l3.700 3.700-3.700 3.700-3.700-3.700z"/>
<circle cx="1219.300" cy="83.600" r="3.100"/><rect x="1224.800" y="80.700" width="5.800" height="5.800" rx="0.6"/>
</g>

</svg>
</div></body></html>
